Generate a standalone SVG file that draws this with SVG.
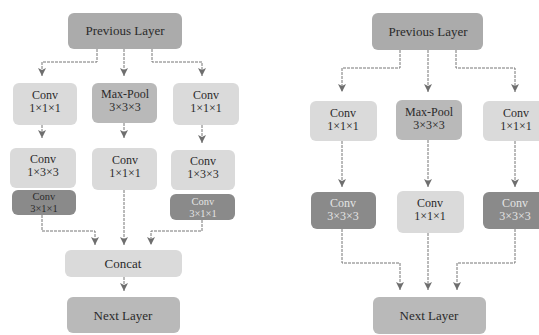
<svg xmlns="http://www.w3.org/2000/svg" width="539" height="335" viewBox="0 0 539 335">
<defs>
<marker id="arr" markerUnits="userSpaceOnUse" markerWidth="9" markerHeight="9" refX="8" refY="4" orient="auto">
<path d="M0,0 L8,4 L0,8 L2,4 z" fill="#6e6e6e"/>
</marker>
</defs>
<style>
.light{fill:#dadada;}
.mid{fill:#b9b9b9;}
.layer{fill:#ababab;}
.dark{fill:#8a8a8a;}
text{font-family:'Liberation Serif','DejaVu Serif',serif;font-size:12px;fill:#2a2a2a;text-anchor:middle;}
text.big{font-size:13px;}
text.sm{font-size:10.5px;}
text.inv{fill:#e4e4e4;}
.conn path{fill:none;stroke:#777;stroke-width:1;stroke-dasharray:3 1;marker-end:url(#arr);}
</style>
<rect width="539" height="335" fill="#ffffff"/>
<g class="conn" id="connectors">
<path d="M97,49 V62 H42 V76"/>
<path d="M124,49 V76"/>
<path d="M152,49 V62 H202 V76"/>
<path d="M42,125 V138"/>
<path d="M124,123 V138"/>
<path d="M202,125 V143"/>
<path d="M42,215 V231 H95 V245"/>
<path d="M124,190 V245"/>
<path d="M202,220 V231 H151 V245"/>
<path d="M124,277 V291"/>
<path d="M400,50 V68 H342 V92"/>
<path d="M428,50 V92"/>
<path d="M456,50 V68 H515 V92"/>
<path d="M342,141 V187"/>
<path d="M428,140 V187"/>
<path d="M515,141 V187"/>
<path d="M342,229 V263 H400 V290"/>
<path d="M428,233 V290"/>
<path d="M515,229 V263 H457 V290"/>
</g>
<g id="prev1"><rect class="layer" x="68" y="13" width="114" height="36" rx="6"/><text class="big" x="125" y="35" font-family="Liberation Serif, serif">Previous Layer</text></g>
<g id="convA"><rect class="light" x="13" y="83" width="64" height="42" rx="6"/><text x="45" y="99">Conv</text><text x="45" y="112">1×1×1</text></g>
<g id="pool1"><rect class="mid" x="92" y="83" width="65" height="40" rx="6"/><text x="125" y="98">Max-Pool</text><text x="125" y="111">3×3×3</text></g>
<g id="convB"><rect class="light" x="173" y="83" width="66" height="42" rx="6"/><text x="206" y="99">Conv</text><text x="206" y="112">1×1×1</text></g>
<g id="convC"><rect class="light" x="10" y="148" width="66" height="40" rx="6"/><text x="43" y="163">Conv</text><text x="43" y="176">1×3×3</text></g>
<g id="convD"><rect class="dark" x="12" y="190" width="64" height="25" rx="6"/><text class="sm" x="44" y="200">Conv</text><text class="sm" x="44" y="212">3×1×1</text></g>
<g id="convE"><rect class="light" x="92" y="148" width="65" height="42" rx="6"/><text x="125" y="164">Conv</text><text x="125" y="177">1×1×1</text></g>
<g id="convF"><rect class="light" x="171" y="150" width="64" height="40" rx="6"/><text x="203" y="165">Conv</text><text x="203" y="178">1×3×3</text></g>
<g id="convG"><rect class="dark" x="170" y="194" width="65" height="26" rx="6"/><text class="sm inv" x="203" y="205">Conv</text><text class="sm inv" x="203" y="217">3×1×1</text></g>
<g id="concat"><rect class="light" x="65" y="250" width="117" height="27" rx="6"/><text class="big" x="123" y="268">Concat</text></g>
<g id="next1"><rect class="mid" x="67" y="297" width="113" height="36" rx="6"/><text class="big" x="123" y="320">Next Layer</text></g>
<g id="prev2"><rect class="layer" x="372" y="13" width="111" height="37" rx="6"/><text class="big" x="428" y="36">Previous Layer</text></g>
<g id="convH"><rect class="light" x="310" y="101" width="67" height="40" rx="6"/><text x="343" y="117">Conv</text><text x="343" y="130">1×1×1</text></g>
<g id="pool2"><rect class="mid" x="396" y="100" width="66" height="40" rx="6"/><text x="429" y="116">Max-Pool</text><text x="429" y="129">3×3×3</text></g>
<g id="convI"><rect class="light" x="483" y="101" width="66" height="40" rx="6"/><text x="516" y="117">Conv</text><text x="516" y="130">1×1×1</text></g>
<g id="convJ"><rect class="dark" x="311" y="192" width="65" height="37" rx="6"/><text class="inv" x="343" y="207">Conv</text><text class="inv" x="343" y="220">3×3×3</text></g>
<g id="convK"><rect class="light" x="397" y="191" width="67" height="42" rx="6"/><text x="430" y="207">Conv</text><text x="430" y="220">1×1×1</text></g>
<g id="convL"><rect class="dark" x="483" y="192" width="66" height="37" rx="6"/><text class="inv" x="515" y="207">Conv</text><text class="inv" x="515" y="220">3×3×3</text></g>
<g id="next2"><rect class="mid" x="373" y="297" width="113" height="37" rx="6"/><text class="big" x="429" y="320">Next Layer</text></g>
</svg>
